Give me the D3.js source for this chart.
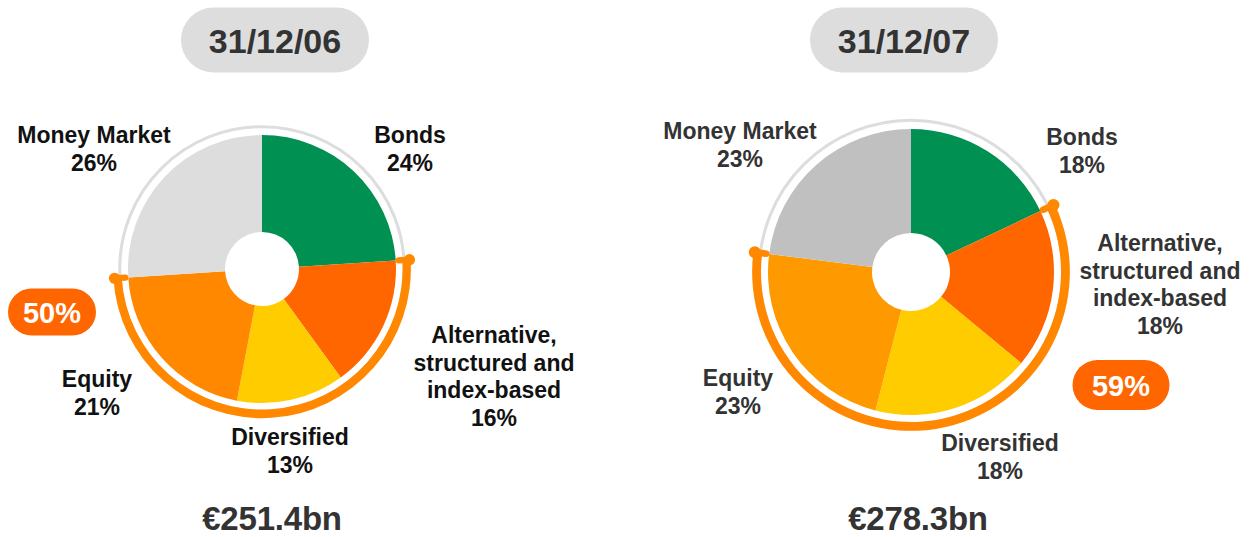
<!DOCTYPE html>
<html>
<head>
<meta charset="utf-8">
<script src="https://cdn.jsdelivr.net/npm/d3@7"></script>
<style>
  body { margin: 0; background: #fff; }
  svg text { font-family: "Liberation Sans", Arial, sans-serif; font-weight: bold; }
</style>
</head>
<body>
<svg id="chart" width="1253" height="537"></svg>
<script>
// data
const categories = ["Bonds", "Alternative, structured and index-based", "Diversified", "Equity", "Money Market"];
const labelLines = [["Bonds"], ["Alternative,", "structured and", "index-based"], ["Diversified"], ["Equity"], ["Money Market"]];
const values2006 = [24, 16, 13, 21, 26];
const values2007 = [18, 18, 18, 23, 23];
const dates = ["31/12/06", "31/12/07"];
const totals = ["€251.4bn", "€278.3bn"];
const highlighted = ["Alternative, structured and index-based", "Diversified", "Equity"];

// layout / styles
const charts = [
  {
    values: values2006, date: dates[0], total: totals[0],
    cx: 262, cy: 269, r: 134, hole: 37,
    colors: ["#009152", "#FF6600", "#FFCC00", "#FF8800", "#DDDDDD"],
    textColor: "#111",
    titleX: 275, totalX: 272,
    badge: { x: 52, y: 312, w: 88, h: 47 },
    labelPos: [[148, -134], [232, 66], [28, 168], [-165, 110], [-168, -134]]
  },
  {
    values: values2007, date: dates[1], total: totals[1],
    cx: 911, cy: 272, r: 143, hole: 39,
    colors: ["#009152", "#FF6600", "#FFCC00", "#FF9900", "#C0C0C0"],
    textColor: "#333",
    titleX: 904, totalX: 918,
    badge: { x: 1121, y: 385, w: 97, h: 50 },
    labelPos: [[171, -135], [249, -29], [89, 171], [-173, 106], [-171, -141]]
  }
];

const svg = d3.select("svg#chart");
const ringOrange = "#FF8800";

charts.forEach(c => {
  // date pill
  const t = svg.append("g").attr("transform", `translate(${c.titleX}, 40)`);
  t.append("rect")
    .attr("x", -94).attr("y", -32.5)
    .attr("width", 188).attr("height", 65)
    .attr("rx", 32.5)
    .attr("fill", "#DDDDDD");
  t.append("text")
    .attr("text-anchor", "middle")
    .attr("y", 13)
    .attr("fill", "#333")
    .style("font-size", "34px")
    .text(c.date);

  const g = svg.append("g").attr("transform", `translate(${c.cx}, ${c.cy})`);

  const pie = d3.pie().sort(null).value(d => d)(c.values);
  const arc = d3.arc().innerRadius(c.hole).outerRadius(c.r);

  // thin grey ring
  g.append("circle")
    .attr("r", c.r * 1.062)
    .attr("fill", "none")
    .attr("stroke", "#DDDDDD")
    .attr("stroke-width", 3);

  // slices
  g.selectAll(".slice")
    .data(pie)
    .enter().append("path")
    .attr("class", "slice")
    .attr("d", arc)
    .attr("fill", (d, i) => c.colors[i]);

  // orange bracket around the highlighted slices
  const hi = pie.filter((d, i) => highlighted.includes(categories[i]));
  const a0 = d3.min(hi, d => d.startAngle);
  const a1 = d3.max(hi, d => d.endAngle);
  const ringR = c.r * 1.08;
  const ringW = c.r * 0.062;
  g.append("path")
    .attr("d", d3.arc()
      .innerRadius(ringR - ringW / 2)
      .outerRadius(ringR + ringW / 2)
      .startAngle(a0).endAngle(a1)())
    .attr("fill", ringOrange);

  [a0, a1].forEach(a => {
    const px = rr => rr * Math.sin(a);
    const py = rr => -rr * Math.cos(a);
    g.append("line")
      .attr("x1", px(c.r + 3)).attr("y1", py(c.r + 3))
      .attr("x2", px(ringR)).attr("y2", py(ringR))
      .attr("stroke", ringOrange)
      .attr("stroke-width", ringW * 0.75)
      .attr("stroke-linecap", "round");
    g.append("circle")
      .attr("cx", px(ringR + 3)).attr("cy", py(ringR + 3))
      .attr("r", ringW * 0.68)
      .attr("fill", ringOrange);
  });

  // labels
  pie.forEach((d, i) => {
    const lines = labelLines[i].concat([c.values[i] + "%"]);
    const txt = g.append("text")
      .attr("text-anchor", "middle")
      .attr("fill", c.textColor)
      .style("font-size", "23px");
    lines.forEach((l, k) => {
      txt.append("tspan")
        .attr("x", c.labelPos[i][0])
        .attr("y", c.labelPos[i][1] + 8 + k * 27.6)
        .text(l);
    });
  });

  // share badge
  const share = d3.sum(c.values.filter((v, i) => highlighted.includes(categories[i])));
  const b = svg.append("g").attr("transform", `translate(${c.badge.x}, ${c.badge.y})`);
  b.append("rect")
    .attr("x", -c.badge.w / 2).attr("y", -c.badge.h / 2)
    .attr("width", c.badge.w).attr("height", c.badge.h)
    .attr("rx", c.badge.h / 2)
    .attr("fill", "#FF6600");
  b.append("text")
    .attr("text-anchor", "middle")
    .attr("y", 10.5)
    .attr("fill", "#fff")
    .style("font-size", "29px")
    .text(share + "%");

  // total
  svg.append("text")
    .attr("x", c.totalX)
    .attr("y", 530)
    .attr("text-anchor", "middle")
    .attr("fill", "#333")
    .style("font-size", "33px")
    .style("letter-spacing", "-0.2px")
    .text(c.total);
});
</script>
</body>
</html>
